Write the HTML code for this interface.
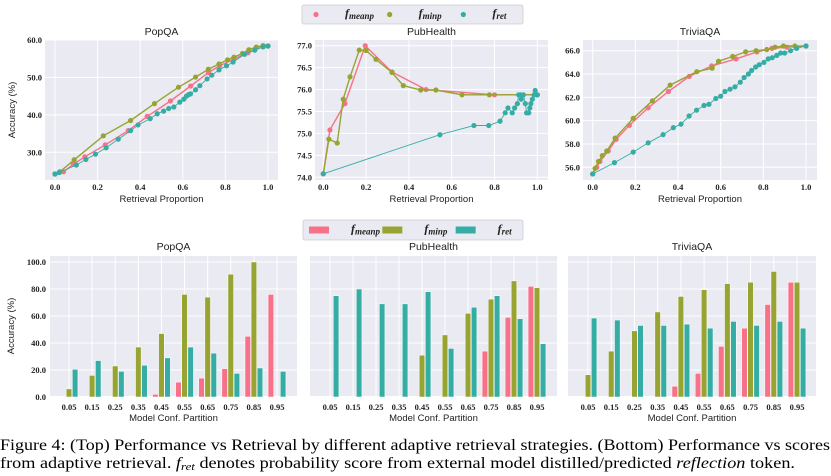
<!DOCTYPE html>
<html><head><meta charset="utf-8">
<style>
html,body{margin:0;padding:0;background:#fff;}
svg{display:block;font-family:"Liberation Sans",sans-serif;}
</style></head>
<body>
<svg id="fig" width="831" height="476" viewBox="0 0 831 476" xmlns="http://www.w3.org/2000/svg"></svg>
<script>
// ---------- data ----------
const lineColors = ["#f77189","#97a431","#36ada4"];
// Top: PopQA
const popqaMeanX = [0,0.04,0.086,0.14,0.236,0.344,0.433,0.542,0.637,0.72,0.773,0.84,0.906,0.977,1];
const popqaMeanY = [24.2,24.8,26.8,28.8,32,35.8,39.6,43.7,47.7,51.3,53.1,54.9,56.6,58.2,58.4];
const popqaMinX = [0,0.023,0.09,0.227,0.355,0.467,0.58,0.66,0.72,0.77,0.81,0.84,0.88,0.91,0.945,0.977,1];
const popqaMinY = [24.2,24.8,28,34.4,38.5,43,47.4,50.1,52.2,53.6,54.7,55.4,56.4,57.4,58.1,58.5,58.4];
const popqaRetX = [0,0.02,0.1,0.145,0.19,0.24,0.297,0.355,0.39,0.447,0.48,0.51,0.534,0.558,0.586,0.605,0.617,0.627,0.636,0.66,0.68,0.714,0.736,0.77,0.805,0.836,0.89,0.938,0.977,1];
const popqaRetY = [24.2,24.6,26.6,28.1,29.5,31.2,33.5,35.8,37.3,39,40.3,41,41.7,42.1,43.4,44.2,45,45.4,45.6,46.7,47.8,49.6,50.6,52,53.1,54.1,56.2,57.3,58.2,58.4];
// Top: PubHealth
const pubMeanX = [0,0.031,0.101,0.196,0.321,0.48,0.8,1];
const pubMeanY = [74.08,75.08,75.68,77,76.4,76,75.88,75.88];
const pubMinX = [0,0.026,0.065,0.093,0.125,0.168,0.2,0.246,0.321,0.374,0.455,0.526,0.648,0.776,1];
const pubMinY = [74.08,74.87,74.78,75.78,76.29,76.9,76.89,76.69,76.39,76.09,75.99,75.99,75.88,75.88,75.88];
const pubRetX = [0,0.545,0.704,0.773,0.826,0.85,0.863,0.883,0.894,0.907,0.913,0.922,0.925,0.935,0.944,0.95,0.96,0.965,0.97,0.977,0.985,0.99,1];
const pubRetY = [74.08,74.97,75.18,75.18,75.28,75.47,75.58,75.47,75.58,75.68,75.88,75.88,75.78,75.88,75.68,75.47,75.47,75.58,75.68,75.78,75.88,75.98,75.88];
// Top: TriviaQA
const triMeanX = [0,0.019,0.034,0.073,0.11,0.172,0.26,0.355,0.453,0.558,0.672,0.77,0.84,0.91,1];
const triMeanY = [55.43,56,56.5,57.4,58.4,59.6,61.1,62.5,63.8,64.7,65.3,65.9,66.2,66.3,66.4];
const triMinX = [0,0.011,0.027,0.045,0.066,0.105,0.19,0.28,0.363,0.488,0.56,0.59,0.656,0.717,0.766,0.816,0.855,0.894,0.948,1];
const triMinY = [55.43,55.9,56.5,57,57.4,58.5,60.2,61.7,63.05,64.2,64.5,65.1,65.5,65.9,66,66.1,66.3,66.4,66.4,66.4];
const triRetX = [0,0.102,0.19,0.26,0.33,0.378,0.414,0.452,0.487,0.522,0.545,0.577,0.6,0.62,0.644,0.667,0.692,0.71,0.73,0.745,0.764,0.781,0.803,0.823,0.842,0.863,0.881,0.9,0.928,0.956,1];
const triRetY = [55.43,56.4,57.3,58.1,58.8,59.4,59.7,60.4,60.9,61.3,61.4,61.9,62.1,62.5,62.7,62.9,63.3,63.7,64,64.3,64.6,64.8,65,65.3,65.4,65.6,65.8,65.8,66,66.2,66.4];
// Bottom bars
const partitions = ["0.05","0.15","0.25","0.35","0.45","0.55","0.65","0.75","0.85","0.95"];
const popqaBarMean = [0,0,0,0,2,11,14,21,45,76];
const popqaBarMin = [6,16,23,37,47,76,74,91,100,0];
const popqaBarRet = [20.5,27,19,23.5,29,37,32.5,17.5,21.5,19];
const pubBarMean = [0,0,0,0,0,0,0,34,59,82];
const pubBarMin = [0,0,0,0,31,46,62,72.5,86,81];
const pubBarRet = [75,80,69,69,78,36,66.5,75,58,39.5];
const triBarMean = [0,0,0,0,8,17.5,37.5,51,68.5,85];
const triBarMin = [16.5,34,49,63,74.5,79.5,84,85,93,85];
const triBarRet = [58.5,57,53,53,54,51,56,53,56,51];
const xTicksTop = [0,0.2,0.4,0.6,0.8,1.0];
const yTicksPop = [30,40,50,60];
const yTicksPub = [74,74.5,75,75.5,76,76.5,77];
const yTicksTri = [56,58,60,62,64,66];
const yTicksBar = [0,20,40,60,80,100];

// ---------- helpers ----------
const NS="http://www.w3.org/2000/svg";
const svg=document.getElementById('fig');
function mk(tag,attrs,parent){const e=document.createElementNS(NS,tag);for(const k in attrs)e.setAttribute(k,attrs[k]);(parent||svg).appendChild(e);return e;}
function txt(s,attrs,parent){const e=mk('text',attrs,parent);e.textContent=s;return e;}
function scale(d0,d1,r0,r1){return v=>r0+(v-d0)*(r1-r0)/(d1-d0);}

function linePanel(name,box,xs,ys,yTicks,yDec,series,showYTitle){
  const g=mk('g',{});
  
  
  const bg=mk('rect',{x:box.x0,y:box.y0,width:box.x1-box.x0,height:box.y1-box.y0,fill:'#eaeaf2'},g);
  
  
  xTicksTop.forEach(t=>{const x=xs(t);
    mk('line',{x1:x,x2:x,y1:box.y0,y2:box.y1,stroke:'#fff','stroke-width':1},g);
    const l=txt(t.toFixed(1),{x:x,y:box.y1+10,'font-size':8.5,'text-anchor':'middle',fill:'#222','font-family':'Liberation Serif, serif','font-weight':'bold'},g);
    
    });
  yTicks.forEach(t=>{const y=ys(t);
    mk('line',{x1:box.x0,x2:box.x1,y1:y,y2:y,stroke:'#fff','stroke-width':1},g);
    const l=txt(t.toFixed(yDec),{x:box.x0-3,y:y+3,'font-size':8.5,'text-anchor':'end',fill:'#222','font-family':'Liberation Serif, serif','font-weight':'bold'},g);
    
    });
  series.forEach((s,i)=>{
    const pts=s.x.map((v,j)=>xs(v).toFixed(1)+','+ys(s.y[j]).toFixed(1)).join(' ');
    const pl=mk('polyline',{points:pts,fill:'none',stroke:lineColors[s.c],'stroke-width':s.c==2?0.9:1.4},g);
    
    
    s.x.forEach((v,j)=>{const c=mk('circle',{cx:xs(v),cy:ys(s.y[j]),r:2.6,fill:lineColors[s.c]},g);
      
      });
  });
  const t=txt(name,{x:(box.x0+box.x1)/2,y:box.y0-5,'font-size':10.5,'text-anchor':'middle',fill:'#222'},g);
  
  
  const xt=txt('Retrieval Proportion',{x:(box.x0+box.x1)/2,y:box.y1+22,'font-size':9.5,'text-anchor':'middle',fill:'#222'},g);
  
  
  if(showYTitle){const yt=txt('Accuracy (%)',{x:0,y:0,'font-size':9.5,'text-anchor':'middle',fill:'#222',transform:`translate(15,${(box.y0+box.y1)/2}) rotate(-90)`},g);
    
    }
}

function barPanel(name,box,x05,x95,series,showY){
  const g=mk('g',{});
  
  
  const ys=scale(0,100,397,262);
  const xs=i=>x05+i*(x95-x05)/9;
  const bg=mk('rect',{x:box.x0,y:box.y0,width:box.x1-box.x0,height:box.y1-box.y0,fill:'#eaeaf2'},g);
  
  
  partitions.forEach((p,i)=>{const x=xs(i);
    mk('line',{x1:x,x2:x,y1:box.y0,y2:box.y1,stroke:'#fff','stroke-width':1},g);
    const l=txt(p,{x:x,y:box.y1+14,'font-size':8.5,'text-anchor':'middle',fill:'#222','font-family':'Liberation Serif, serif','font-weight':'bold'},g);
    
    });
  yTicksBar.forEach(t=>{const y=ys(t);
    mk('line',{x1:box.x0,x2:box.x1,y1:y,y2:y,stroke:'#fff','stroke-width':1},g);
    if(showY){const l=txt(t.toFixed(1),{x:box.x0-4,y:y+3,'font-size':8.5,'text-anchor':'end',fill:'#222','font-family':'Liberation Serif, serif','font-weight':'bold'},g);
      
      }});
  const bw=5.6;
  series.forEach((vals,s)=>{vals.forEach((v,i)=>{if(v<=0)return;
    const x=xs(i)+(s-1)*(bw+0.5)-bw/2;
    const r=mk('rect',{x:x,y:ys(v),width:bw,height:ys(0)-ys(v),fill:lineColors[s],stroke:'#fff','stroke-width':0.5},g);
    
    });});
  const t=txt(name,{x:(box.x0+box.x1)/2,y:box.y0-6,'font-size':10.5,'text-anchor':'middle',fill:'#222'},g);
  
  
  const xt=txt('Model Conf. Partition',{x:(box.x0+box.x1)/2,y:box.y1+25,'font-size':9.5,'text-anchor':'middle',fill:'#222'},g);
  
  
  if(showY){const yt=txt('Accuracy (%)',{x:0,y:0,'font-size':9.5,'text-anchor':'middle',fill:'#222',transform:`translate(14,${(box.y0+box.y1)/2}) rotate(-90)`},g);
    
    }
}

function legend(x0,y0,w,h,isBar){
  const g=mk('g',{});
  
  
  mk('rect',{x:x0,y:y0,width:w,height:h,rx:2,fill:'#eaeaf2',stroke:'#ccc','stroke-width':0.8},g);
  const subs=['meanp','minp','ret'];
  subs.forEach((s,i)=>{
    const cx=x0+10+i*(w/3);
    let m;
    if(isBar){m=mk('rect',{x:cx-4,y:y0+h/2-3.5,width:20,height:7,fill:lineColors[i]},g);}
    else{m=mk('circle',{cx:cx+4,cy:y0+h/2,r:2.6,fill:lineColors[i]},g);}
    
    
    const t=mk('text',{x:cx+(isBar?38:33),y:y0+h/2+2.5,'font-size':12,'font-family':'Liberation Serif, serif','font-style':'italic','font-weight':'bold',fill:'#222'},g);
    
    
    const a=mk('tspan',{},t);a.textContent='f';
    const b=mk('tspan',{'font-size':9,dy:2},t);b.textContent=s;
  });
}

// ---------- draw ----------
linePanel('PopQA',{x0:45,x1:278,y0:40,y1:180},scale(0,1,55,268),scale(30,60,152.3,40),yTicksPop,1,
  [{x:popqaMeanX,y:popqaMeanY,c:0,n:'meanp'},{x:popqaMinX,y:popqaMinY,c:1,n:'minp'},{x:popqaRetX,y:popqaRetY,c:2,n:'ret'}],true);
linePanel('PubHealth',{x0:315,x1:548,y0:40,y1:180},scale(0,1,323.3,537.3),scale(74,77,177.3,45.7),yTicksPub,1,
  [{x:pubMeanX,y:pubMeanY,c:0,n:'meanp'},{x:pubMinX,y:pubMinY,c:1,n:'minp'},{x:pubRetX,y:pubRetY,c:2,n:'ret'}],false);
linePanel('TriviaQA',{x0:583,x1:817,y0:40,y1:180},scale(0,1,592.7,806),scale(56,66,167.3,50.7),yTicksTri,1,
  [{x:triMeanX,y:triMeanY,c:0,n:'meanp'},{x:triMinX,y:triMinY,c:1,n:'minp'},{x:triRetX,y:triRetY,c:2,n:'ret'}],false);
legend(302,5,221,19,false);

barPanel('PopQA',{x0:50,x1:297,y0:256,y1:396},69,277,[popqaBarMean,popqaBarMin,popqaBarRet],true);
barPanel('PubHealth',{x0:310,x1:557,y0:256,y1:396},330,537,[pubBarMean,pubBarMin,pubBarRet],false);
barPanel('TriviaQA',{x0:568,x1:816,y0:256,y1:396},588,797,[triBarMean,triBarMin,triBarRet],false);
legend(303,220,220,20,true);

// caption
const c1=txt('Figure 4: (Top) Performance vs Retrieval by different adaptive retrieval strategies.  (Bottom) Performance vs scores',{x:0,y:450,'font-size':15.5,'font-family':'Liberation Serif, serif',fill:'#000',textLength:830,lengthAdjust:'spacingAndGlyphs'});


const c2=mk('text',{x:0,y:468,'font-size':15.5,'font-family':'Liberation Serif, serif',fill:'#000',textLength:795,lengthAdjust:'spacingAndGlyphs'});


[['from adaptive retrieval. ',''],['f','i'],['ret','s'],[' denotes probability score from external model distilled/predicted ',''],['reflection','i'],[' token.','']].forEach(p=>{
  const t=mk('tspan',{},c2);t.textContent=p[0];
  if(p[1]==='i')t.setAttribute('font-style','italic');
  if(p[1]==='s'){t.setAttribute('font-style','italic');t.setAttribute('font-size','11');t.setAttribute('dy','2');}
  if(p[0]===' denotes probability score from external model distilled/predicted ')t.setAttribute('dy','-2');
});
</script>
</body></html>
